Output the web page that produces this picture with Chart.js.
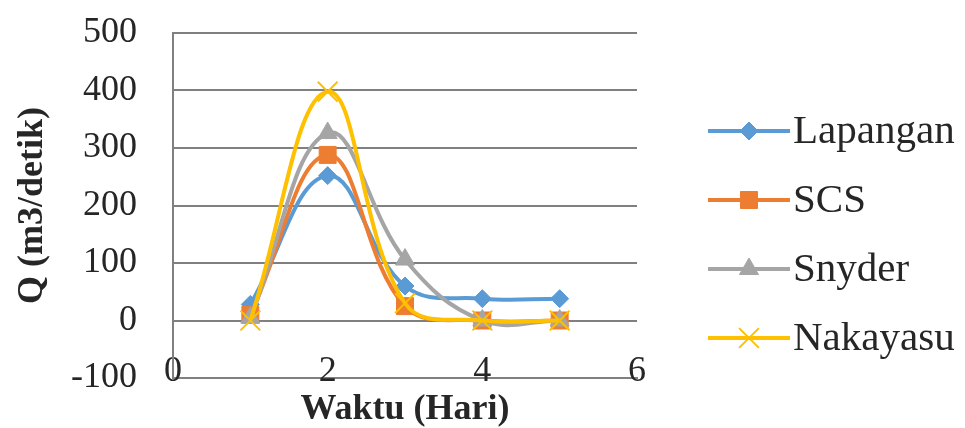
<!DOCTYPE html>
<html>
<head>
<meta charset="utf-8">
<script src="https://cdn.jsdelivr.net/npm/chart.js@4/dist/chart.umd.min.js"></script>
<style>
  html, body { margin: 0; padding: 0; background: #fff; }
  #wrap { width: 965px; height: 428px; }
</style>
</head>
<body>
<div id="wrap"><canvas id="hidroChart" width="965" height="428"></canvas></div>
<script>
// data hidrograf
var waktu = [1, 2, 3, 4, 5];
var lapangan = [28, 252, 60, 38, 38];
var scs = [10, 288, 25, 0, 0];
var snyder = [5, 326, 106, 0, 0];
var nakayasu = [0, 398, 30, 0, 0];
var seriesNames = ['Lapangan', 'SCS', 'Snyder', 'Nakayasu'];
var yTicks = [-100, 0, 100, 200, 300, 400, 500];
var xTicks = [0, 2, 4, 6];

var warna = ['#5B9BD5', '#ED7D31', '#A5A5A5', '#FFC000'];
var gaya = ['rectRot', 'rect', 'triangle', 'crossRot'];
var radius = [9, 12, 11, 14];
var serif = "'Liberation Serif', 'Times New Roman', serif";

function toPoints(vals) {
    return waktu.map(function (x, i) { return {x: x, y: vals[i]}; });
}

var allSeries = [lapangan, scs, snyder, nakayasu];
var datasets = allSeries.map(function (vals, i) {
    return {
        label: seriesNames[i],
        data: toPoints(vals),
        borderColor: warna[i],
        backgroundColor: warna[i],
        pointBackgroundColor: warna[i],
        pointBorderColor: warna[i],
        pointBorderWidth: i === 3 ? 2 : 1,
        pointStyle: gaya[i],
        pointRadius: radius[i],
        borderWidth: 4,
        tension: 0.4,
        showLine: true,
        order: 3 - i
    };
});

// legenda manual: garis + penanda seperti di Excel
var legendaPlugin = {
    id: 'legenda',
    afterDraw: function (chart) {
        var ctx = chart.ctx;
        var rowY = [131, 200, 269, 338];
        ctx.save();
        seriesNames.forEach(function (nama, i) {
            var y = rowY[i];
            ctx.strokeStyle = warna[i];
            ctx.lineWidth = 4;
            ctx.beginPath();
            ctx.moveTo(708, y);
            ctx.lineTo(790, y);
            ctx.stroke();
            ctx.fillStyle = warna[i];
            ctx.lineWidth = i === 3 ? 2 : 1;
            Chart.helpers.drawPoint(ctx, {pointStyle: gaya[i], radius: radius[i], borderWidth: ctx.lineWidth}, 749, y);
            ctx.fillStyle = '#262626';
            ctx.font = '41px ' + serif;
            ctx.textBaseline = 'middle';
            ctx.textAlign = 'left';
            ctx.fillText(nama, 793, y + 1);
        });
        ctx.restore();
    }
};

var ctx = document.getElementById('hidroChart').getContext('2d');
var chart = new Chart(ctx, {
    type: 'scatter',
    data: { datasets: datasets },
    plugins: [legendaPlugin],
    options: {
        responsive: false,
        animation: false,
        layout: { padding: { top: 33, right: 328, left: 0, bottom: 0 } },
        plugins: {
            legend: { display: false },
            tooltip: { enabled: false }
        },
        scales: {
            x: {
                type: 'linear',
                min: 0,
                max: 6,
                afterBuildTicks: function (s) { s.ticks = xTicks.map(function (v) { return {value: v}; }); },
                afterFit: function (s) { s.height = 50; },
                grid: { display: false, drawTicks: false },
                border: { display: true, color: '#808080', width: 2 },
                // label sumbu x menempel di atas garis sumbu seperti gambar asli
                ticks: { color: '#262626', font: { family: serif, size: 36 }, mirror: true, padding: -15, maxRotation: 0 },
                title: {
                    display: true,
                    text: 'Waktu (Hari)',
                    color: '#262626',
                    font: { family: serif, size: 36, weight: 'bold', lineHeight: 1 },
                    padding: { top: 0, bottom: 0 }
                }
            },
            y: {
                min: -100,
                max: 500,
                afterBuildTicks: function (s) { s.ticks = yTicks.map(function (v) { return {value: v}; }); },
                afterFit: function (s) {
                    s.width = 173;
                    s.paddingTop = 0;
                    s.paddingBottom = 0;
                },
                grid: { color: '#808080', lineWidth: 2, drawTicks: false },
                border: { display: true, color: '#808080', width: 2 },
                ticks: { color: '#262626', font: { family: serif, size: 36 }, padding: 36 },
                title: {
                    display: true,
                    text: 'Q (m3/detik)',
                    color: '#262626',
                    font: { family: serif, size: 36, weight: 'bold', lineHeight: 1 },
                    padding: { top: 15, bottom: 0 }
                }
            }
        }
    }
});
</script>
</body>
</html>
